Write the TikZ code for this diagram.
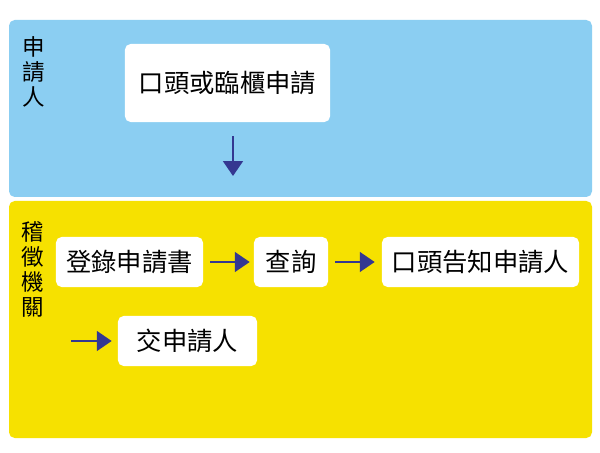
\documentclass[tikz,border=0pt]{standalone}
\usepackage{fontspec}
\newfontfamily\cjk{Noto Sans CJK TC}
\usetikzlibrary{arrows.meta}
\definecolor{panelblue}{RGB}{139,206,242}
\definecolor{panelyellow}{RGB}{246,225,0}
\definecolor{arrowblue}{RGB}{52,56,145}
\begin{document}
\begin{tikzpicture}[x=0.025cm, y=-0.025cm,
    stepbox/.style={fill=white, rounded corners=4pt, inner sep=0pt, minimum height=1.25cm,
        font=\cjk\fontsize{18}{20}\selectfont},
    sidelabel/.style={align=center, inner sep=0pt, font=\cjk\fontsize{16}{17.8}\selectfont},
    flow/.style={arrowblue, line width=1.4pt, -{Triangle[length=10.5pt,width=14pt]}}]
    \useasboundingbox (0,0) rectangle (600,453);
    % the two lanes
    \fill[panelblue, rounded corners=4pt] (9,20) rectangle (592,197);
    \fill[panelyellow, rounded corners=4pt] (9,201) rectangle (592,438);
    \node[sidelabel] (applicant) at (33.5,71.5) {申\\請\\人};
    \node[sidelabel] (office) at (33,269.5) {稽\\徵\\機\\關};
    % steps
    \node[stepbox, minimum width=5.125cm, minimum height=1.95cm] (apply) at (227.5,83) {口頭或臨櫃申請};
    \node[stepbox, minimum width=3.675cm] (register) at (129.5,262) {登錄申請書};
    \node[stepbox, minimum width=1.85cm] (query) at (291,262) {查詢};
    \node[stepbox, minimum width=4.925cm] (notify) at (480.5,262) {口頭告知申請人};
    \node[stepbox, minimum width=3.475cm] (handover) at (187.5,341) {交申請人};
    \coordinate (down-end) at (233,176);
    \coordinate (next-start) at (71,341);
    % arrows
    \draw[flow, shorten <=0.35cm] (apply.south -| down-end) -- (down-end);
    \draw[flow, shorten <=0.175cm, shorten >=0.1cm] (register) -- (query);
    \draw[flow, shorten <=0.175cm, shorten >=0.175cm] (query) -- (notify);
    \draw[flow, shorten >=0.15cm] (next-start) -- (handover);
\end{tikzpicture}
\end{document}
